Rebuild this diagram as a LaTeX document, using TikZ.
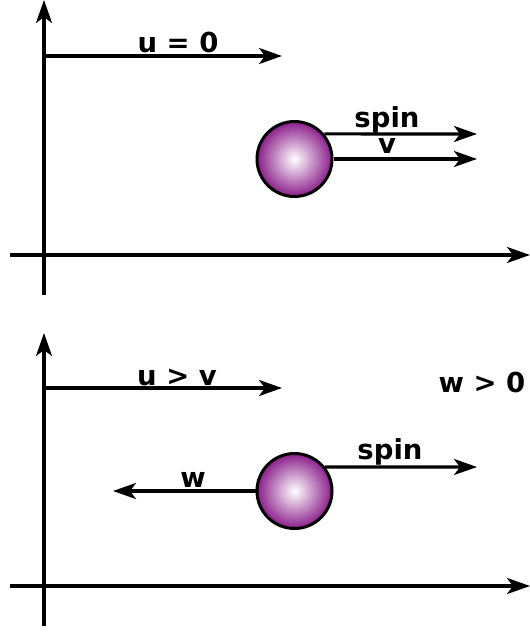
\documentclass[tikz,border=0pt]{standalone}
\usepackage{fontspec}
\setmainfont{DejaVu Sans}[BoldFont={DejaVu Sans Bold}]
\usetikzlibrary{arrows.meta}
\definecolor{ballpurple}{HTML}{8A1E8A}
\tikzset{
  vec/.style={line width=3.1pt,-{Stealth[length=23pt,width=16pt,inset=6pt]}},
  ball/.style={circle, draw=black, line width=3pt, minimum size=75pt, inner sep=0pt,
    shade, inner color=white, outer color=ballpurple},
  lbl/.style={anchor=base, inner sep=0pt, font=\fontsize{27.5}{27.5}\selectfont\bfseries},
}
\begin{document}
\begin{tikzpicture}[x=1pt,y=-1pt]
\useasboundingbox (0,0) rectangle (530,632);
% ---- top panel ----
\coordinate (ay1b) at (44,295);
\coordinate (ay1t) at (44,0);
\coordinate (ax1l) at (10,255);
\coordinate (ax1r) at (530,255);
\coordinate (u1s) at (44,56);
\coordinate (u1e) at (282,56);
\coordinate (s1e) at (477,134);
\coordinate (v1e) at (477,159);
\node[ball] (b1) at (294.5,159) {};
\draw[vec] (ay1b) -- (ay1t);
\draw[vec] (ax1l) -- (ax1r);
\draw[vec] (u1s) -- (u1e);
\draw[vec] (b1.40.5) -- (s1e);
\draw[vec] (b1.east) -- (v1e);
\node[lbl] (tu1) at (178,52) {u = 0};
\node[lbl] (ts1) at (387,127) {spin};
\node[lbl] (tv1) at (387,153) {v};
% ---- bottom panel ----
\coordinate (ay2b) at (44,626);
\coordinate (ay2t) at (44,333);
\coordinate (ax2l) at (10,586);
\coordinate (ax2r) at (530,586);
\coordinate (u2s) at (44,388);
\coordinate (u2e) at (282,388);
\coordinate (s2e) at (477,467);
\coordinate (w2e) at (113,491);
\node[ball] (b2) at (294.5,491) {};
\draw[vec] (ay2b) -- (ay2t);
\draw[vec] (ax2l) -- (ax2r);
\draw[vec] (u2s) -- (u2e);
\draw[vec] (b2.38.6) -- (s2e);
\draw[vec] (b2.west) -- (w2e);
\node[lbl] (tu2) at (177,385) {u > v};
\node[lbl] (tw0) at (482,392) {w > 0};
\node[lbl] (ts2) at (390,459) {spin};
\node[lbl] (tw2) at (193,487) {w};
\end{tikzpicture}
\end{document}
